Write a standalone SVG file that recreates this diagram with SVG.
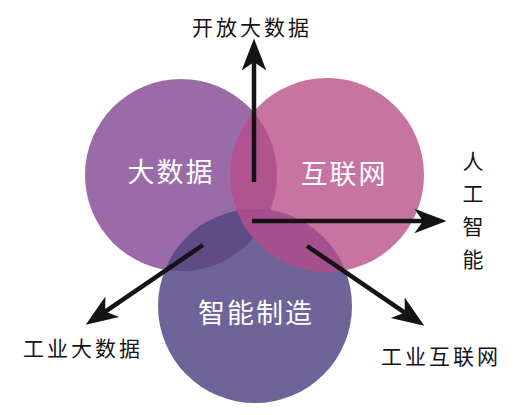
<svg xmlns="http://www.w3.org/2000/svg" width="520" height="415" viewBox="0 0 520 415">
<style>
.lbl{font-family:"Noto Sans CJK SC","Noto Sans",sans-serif;fill:#151515;font-size:21px;}
.in{font-family:"Noto Sans CJK SC","Noto Sans",sans-serif;fill:#ffffff;font-size:27px;letter-spacing:2px;}
.arr{stroke:#141414;stroke-width:4.5;fill:none;marker-end:url(#ah);}
</style>
<defs>
<marker id="ah" markerUnits="userSpaceOnUse" markerWidth="40" markerHeight="30" viewBox="-2 -14 36 28" refX="8" refY="0" orient="auto">
<path d="M30,0 L0,-11.5 L8,0 L0,11.5 Z" fill="#141414"/>
</marker>
<clipPath id="cL"><circle cx="181" cy="175" r="96"/></clipPath>
<clipPath id="cR"><circle cx="327" cy="175" r="97"/></clipPath>
<clipPath id="cB"><circle cx="255" cy="306" r="97"/></clipPath>
</defs>
<rect width="520" height="415" fill="#ffffff"/>
<g id="node-bigdata">
<circle cx="181" cy="175" r="96" fill="#9b6ba8"/>
<text class="in" x="171" y="182" text-anchor="middle">大数据</text>
</g>
<g id="node-internet">
<circle cx="327" cy="175" r="97" fill="#c874a1"/>
<text class="in" x="344" y="184" text-anchor="middle">互联网</text>
</g>
<g id="node-manufacturing">
<circle cx="255" cy="306" r="97" fill="#6f6499"/>
<text class="in" x="256" y="323" text-anchor="middle">智能制造</text>
</g>
<g id="overlaps">
<g clip-path="url(#cL)"><circle cx="327" cy="175" r="97" fill="#b0538f"/></g>
<g clip-path="url(#cL)"><circle cx="255" cy="306" r="97" fill="#5e4b88"/></g>
<g clip-path="url(#cR)"><circle cx="255" cy="306" r="97" fill="#a6508d"/></g>
<g clip-path="url(#cL)"><g clip-path="url(#cR)"><circle cx="255" cy="306" r="97" fill="#a84e8c"/></g></g>
</g>
<g id="connectors">
<line class="arr" x1="254" y1="182" x2="254" y2="62"/>
<line class="arr" x1="252" y1="221" x2="423" y2="221"/>
<line class="arr" x1="203" y1="245" x2="105.2" y2="311.6"/>
<line class="arr" x1="307" y1="246" x2="404.8" y2="312.6"/>
</g>
<g id="label-open-bigdata"><text class="lbl" x="252" y="35" text-anchor="middle" letter-spacing="3">开放大数据</text></g>
<g id="label-ai">
<text class="lbl" x="473" y="169" text-anchor="middle">人</text>
<text class="lbl" x="473" y="201" text-anchor="middle">工</text>
<text class="lbl" x="473" y="234" text-anchor="middle">智</text>
<text class="lbl" x="473" y="267" text-anchor="middle">能</text>
</g>
<g id="label-industrial-bigdata"><text class="lbl" x="83" y="356" text-anchor="middle" letter-spacing="3">工业大数据</text></g>
<g id="label-industrial-internet"><text class="lbl" x="441" y="364" text-anchor="middle" letter-spacing="3">工业互联网</text></g>
</svg>
